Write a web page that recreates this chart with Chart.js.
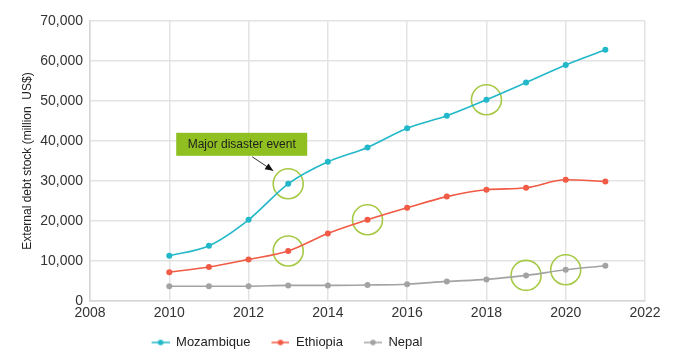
<!DOCTYPE html>
<html>
<head>
<meta charset="utf-8">
<script src="https://cdn.jsdelivr.net/npm/chart.js@4/dist/chart.umd.min.js"></script>
<style>
html,body{margin:0;padding:0;background:#fff;}
#wrap{width:679px;height:357px;position:relative;}
</style>
</head>
<body>
<div id="wrap"><canvas id="c" width="679" height="357"></canvas></div>
<script>
const years = [2010, 2011, 2012, 2013, 2014, 2015, 2016, 2017, 2018, 2019, 2020, 2021];
const mozambique = [11300, 13800, 20300, 29300, 34800, 38400, 43200, 46300, 50300, 54600, 59000, 62800];
const ethiopia = [7200, 8500, 10400, 12500, 16900, 20300, 23300, 26100, 27800, 28300, 30300, 29900];
const nepal = [3700, 3700, 3700, 3900, 3900, 4000, 4200, 4900, 5400, 6400, 7800, 8800];
const mozEvents = [2013, 2018];
const ethEvents = [2013, 2015];
const nepEvents = [2019, 2020];
const xTicks = [2008, 2010, 2012, 2014, 2016, 2018, 2020, 2022];
const annotationText = 'Major disaster event';
const seriesNames = ['Mozambique', 'Ethiopia', 'Nepal'];
const colors = ['#22b8c9', '#f15a44', '#a3a3a3'];

function toPts(vals){ return years.map((y,i)=>({x:y,y:vals[i]})); }
function eventPts(ev, vals){ return ev.map(y=>({x:y,y:vals[years.indexOf(y)]})); }

function legendIcon(color){
  const cv = document.createElement('canvas');
  cv.width = 29; cv.height = 8;
  const g = cv.getContext('2d');
  g.strokeStyle = color; g.lineWidth = 1.5;
  g.beginPath(); g.moveTo(11,4); g.lineTo(29,4); g.stroke();
  g.fillStyle = color; g.beginPath(); g.arc(20,4,2.8,0,Math.PI*2); g.fill();
  return cv;
}

const seriesVals = [mozambique, ethiopia, nepal];
const datasets = seriesVals.map((v,i)=>({
  label: seriesNames[i],
  data: toPts(v),
  borderColor: colors[i],
  backgroundColor: colors[i],
  borderWidth: 1.6,
  pointRadius: 3,
  pointHoverRadius: 3,
  pointBorderWidth: 0,
  cubicInterpolationMode: 'monotone',
  fill: false
}));
datasets.push({
  label: 'events',
  data: [...eventPts(mozEvents, mozambique), ...eventPts(ethEvents, ethiopia), ...eventPts(nepEvents, nepal)],
  showLine: false,
  pointRadius: 15,
  pointHoverRadius: 15,
  pointBorderColor: '#a6c945',
  pointBackgroundColor: 'rgba(0,0,0,0)',
  pointBorderWidth: 1.6
});

const annotationPlugin = {
  id: 'annot',
  afterLayout(chart){
    const lg = chart.legend;
    if (lg) { lg.left -= 51; lg.right -= 51; lg.top += 2; lg.bottom += 2; }
  },
  afterDatasetsDraw(chart){
    const ctx = chart.ctx;
    const xs = chart.scales.x, ys = chart.scales.y;
    const px = xs.getPixelForValue(mozEvents[0]);
    const py = ys.getPixelForValue(mozambique[years.indexOf(mozEvents[0])]);
    const bx = px - 112, by = py - 51, bw = 131, bh = 23;
    ctx.save();
    ctx.fillStyle = '#8fbf21';
    ctx.fillRect(bx, by, bw, bh);
    ctx.fillStyle = '#1e1e1e';
    ctx.font = '12px "Liberation Sans", Arial, sans-serif';
    ctx.textBaseline = 'middle';
    ctx.textAlign = 'center';
    ctx.fillText(annotationText, bx + bw/2, by + bh/2 + 0.5);
    const x1 = px - 36, y1 = py - 27, x2 = px - 15, y2 = py - 13;
    ctx.strokeStyle = '#333'; ctx.lineWidth = 1;
    ctx.beginPath(); ctx.moveTo(x1,y1); ctx.lineTo(x2,y2); ctx.stroke();
    const a = Math.atan2(y2-y1, x2-x1);
    ctx.fillStyle = '#111';
    ctx.beginPath();
    ctx.moveTo(x2, y2);
    ctx.lineTo(x2 - 8*Math.cos(a) + 3.5*Math.sin(a), y2 - 8*Math.sin(a) - 3.5*Math.cos(a));
    ctx.lineTo(x2 - 8*Math.cos(a) - 3.5*Math.sin(a), y2 - 8*Math.sin(a) + 3.5*Math.cos(a));
    ctx.closePath(); ctx.fill();
    ctx.restore();
  }
};

new Chart(document.getElementById('c'), {
  type: 'line',
  data: { datasets },
  plugins: [annotationPlugin],
  options: {
    responsive: false,
    animation: false,
    layout: { padding: { top: 21, right: 34, bottom: 0, left: 20 } },
    plugins: {
      tooltip: { enabled: false },
      legend: {
        position: 'bottom',
        labels: {
          usePointStyle: true,
          pointStyleWidth: 29,
          padding: 10,
          color: '#222',
          font: { family: '"Liberation Sans", Arial, sans-serif', size: 13 },
          generateLabels: (chart) => seriesNames.map((n,i)=>({
            text: n, datasetIndex: i, pointStyle: legendIcon(colors[i]),
            fillStyle: colors[i], strokeStyle: colors[i], lineWidth: 0, hidden: false, fontColor: '#222'
          }))
        }
      }
    },
    scales: {
      x: {
        type: 'linear',
        min: 2008, max: 2022,
        afterBuildTicks: (s) => { s.ticks = xTicks.map(v=>({value:v})); },
        afterFit: (s) => { s.height = 23; },
        grid: { color: '#e3e3e3', lineWidth: 1.5, drawTicks: false },
        border: { color: '#d6d6d6', width: 1.5 },
        ticks: {
          padding: 4,
          color: '#333',
          font: { family: '"Liberation Sans", Arial, sans-serif', size: 14 },
          callback: (v) => String(v)
        }
      },
      y: {
        min: 0, max: 70000,
        afterFit: (s) => { s.width = 70; },
        grid: { color: '#e3e3e3', lineWidth: 1.5, drawTicks: false },
        border: { color: '#d6d6d6', width: 1.5 },
        ticks: {
          stepSize: 10000,
          padding: 7,
          color: '#333',
          font: { family: '"Liberation Sans", Arial, sans-serif', size: 14 },
          callback: (v) => v.toLocaleString('en-US')
        },
        title: {
          display: true,
          text: 'External debt stock (million  US$)',
          color: '#222',
          padding: { top: 0, bottom: 4 },
          font: { family: '"Liberation Sans", Arial, sans-serif', size: 12 }
        }
      }
    }
  }
});
</script>
</body>
</html>
